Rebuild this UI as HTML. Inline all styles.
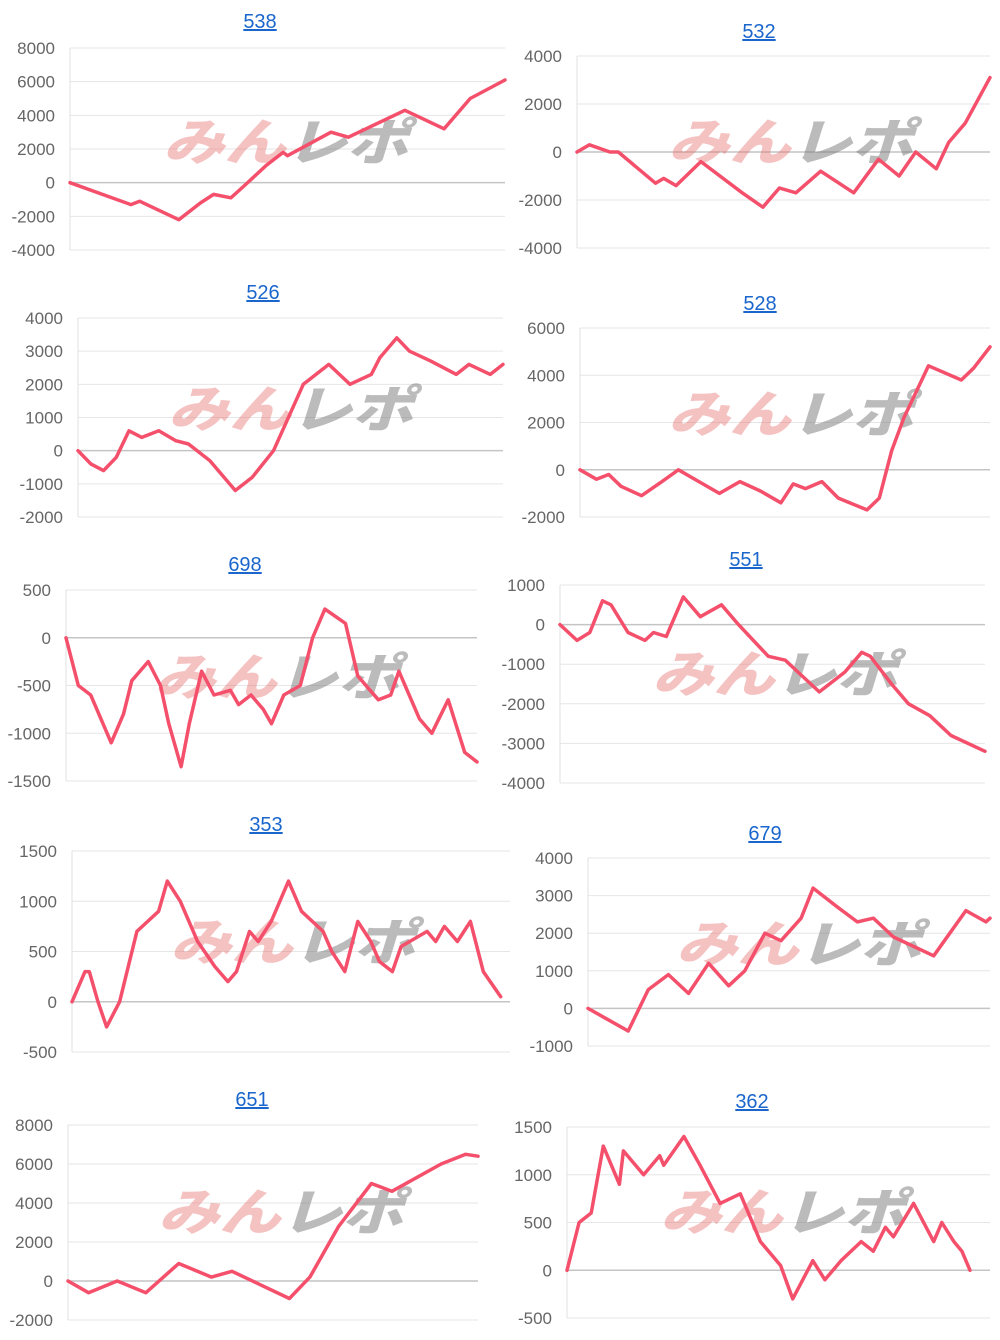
<!DOCTYPE html>
<html><head><meta charset="utf-8"><style>
html,body{margin:0;padding:0;background:#fff;width:1000px;height:1340px;overflow:hidden}
svg{display:block}
</style></head><body>
<svg id="root" width="1000" height="1340" xmlns="http://www.w3.org/2000/svg"></svg>
<script>
// ---- data ----
const c538X=[0,14,16,25,30,33,37,40,45,49,50,60,64,77,86,92,100];
const c538Y=[0,-1300,-1100,-2200,-1200,-700,-900,-200,1000,1800,1600,3000,2700,4300,3200,5000,6100];
const t538=[8000,6000,4000,2000,0,-2000,-4000];
const c532X=[0,3,8,10,19,21,24,30,40,45,49,53,59,67,73,78,82,87,90,94,100];
const c532Y=[0,300,0,0,-1300,-1100,-1400,-400,-1700,-2300,-1500,-1700,-800,-1700,-300,-1000,0,-700,400,1200,3100];
const t532=[4000,2000,0,-2000,-4000];
const c526X=[0,3,6,9,12,15,19,23,26,31,37,41,46,53,59,64,69,71,75,78,83,89,92,97,100];
const c526Y=[0,-400,-600,-200,600,400,600,300,200,-300,-1200,-800,0,2000,2600,2000,2300,2800,3400,3000,2700,2300,2600,2300,2600];
const t526=[4000,3000,2000,1000,0,-1000,-2000];
const c528X=[0,4,7,10,15,20,24,29,34,39,44,49,52,55,59,63,70,73,76,79,85,93,96,100];
const c528Y=[0,-400,-200,-700,-1100,-500,0,-500,-1000,-500,-900,-1400,-600,-800,-500,-1200,-1700,-1200,800,2200,4400,3800,4300,5200];
const t528=[6000,4000,2000,0,-2000];
const c698X=[0,3,6,9,11,14,16,20,23,25,28,30,33,36,40,42,45,48,50,53,57,60,63,68,71,74,76,79,81,86,89,93,97,100];
const c698Y=[0,-500,-600,-900,-1100,-800,-450,-250,-500,-900,-1350,-900,-350,-600,-550,-700,-600,-750,-900,-600,-500,0,300,150,-400,-550,-650,-600,-350,-850,-1000,-650,-1200,-1300];
const t698=[500,0,-500,-1000,-1500];
const c551X=[0,4,7,10,12,16,20,22,25,29,33,38,42,49,53,56,61,67,71,73,78,82,87,92,100];
const c551Y=[0,-400,-200,600,500,-200,-400,-200,-300,700,200,500,0,-800,-900,-1200,-1700,-1200,-700,-800,-1500,-2000,-2300,-2800,-3200];
const t551=[1000,0,-1000,-2000,-3000,-4000];
const c353X=[0,3,4,6,8,11,15,20,22,25,29,33,36,38,41,43,46,50,53,58,60,63,66,69,71,74,76,82,84,86,89,92,95,99];
const c353Y=[0,300,300,0,-250,0,700,900,1200,1000,600,350,200,300,700,600,800,1200,900,700,500,300,800,600,400,300,550,700,600,750,600,800,300,50];
const t353=[1500,1000,500,0,-500];
const c679X=[0,5,10,15,20,25,30,35,39,44,48,53,56,62,67,71,76,86,90,94,99,100];
const c679Y=[0,-300,-600,500,900,400,1200,600,1000,2000,1800,2400,3200,2700,2300,2400,1900,1400,2000,2600,2300,2400];
const t679=[4000,3000,2000,1000,0,-1000];
const c651X=[0,5,12,19,27,35,40,47,54,59,66,74,79,91,97,100];
const c651Y=[0,-600,0,-600,900,200,500,-200,-900,200,2800,5000,4600,6000,6500,6400];
const t651=[8000,6000,4000,2000,0,-2000];
const c362X=[0,3,6,9,13,14,19,23,24,29,33,38,43,48,53,56,61,64,68,73,76,79,81,86,91,93,96,98,100];
const c362Y=[0,500,600,1300,900,1250,1000,1200,1100,1400,1100,700,800,300,50,-300,100,-100,100,300,200,450,350,700,300,500,300,200,0];
const t362=[1500,1000,500,0,-500];

const charts=[
 {title:'538',tx:260,ty:28,ax:70,right:505,dend:505,top:48,bot:250,xs:c538X,ys:c538Y,ticks:t538,wx:163,wy:158},
 {title:'532',tx:759,ty:38,ax:577,right:990,dend:990,top:56,bot:248,xs:c532X,ys:c532Y,ticks:t532,wx:668,wy:158},
 {title:'526',tx:263,ty:299,ax:78,right:503,dend:503,top:318,bot:517,xs:c526X,ys:c526Y,ticks:t526,wx:168,wy:425},
 {title:'528',tx:760,ty:310,ax:580,right:990,dend:990,top:328,bot:517,xs:c528X,ys:c528Y,ticks:t528,wx:668,wy:430},
 {title:'698',tx:245,ty:571,ax:66,right:477,dend:477,top:590,bot:781,xs:c698X,ys:c698Y,ticks:t698,wx:154,wy:693},
 {title:'551',tx:746,ty:566,ax:560,right:985,dend:985,top:585,bot:783,xs:c551X,ys:c551Y,ticks:t551,wx:652,wy:690},
 {title:'353',tx:266,ty:831,ax:72,right:510,dend:505,top:851,bot:1052,xs:c353X,ys:c353Y,ticks:t353,wx:170,wy:958},
 {title:'679',tx:765,ty:840,ax:588,right:990,dend:990,top:858,bot:1046,xs:c679X,ys:c679Y,ticks:t679,wx:676,wy:960},
 {title:'651',tx:252,ty:1106,ax:68,right:478,dend:478,top:1125,bot:1320,xs:c651X,ys:c651Y,ticks:t651,wx:158,wy:1228},
 {title:'362',tx:752,ty:1108,ax:567,right:990,dend:970,top:1127,bot:1318,xs:c362X,ys:c362Y,ticks:t362,wx:660,wy:1228}
];
const NS='http://www.w3.org/2000/svg';
const root=document.getElementById('root');
function mk(tag,attrs,parent){const e=document.createElementNS(NS,tag);for(const k in attrs)e.setAttribute(k,attrs[k]);parent.appendChild(e);return e;}
charts.forEach(c=>{
  const g=mk('g',{},root);
  
  
  const tmax=c.ticks[0],tmin=c.ticks[c.ticks.length-1];
  const yS=v=>c.top+(tmax-v)/(tmax-tmin)*(c.bot-c.top);
  const xS=i=>c.ax+i/100*(c.dend-c.ax);
  c.ticks.forEach(t=>{
    const y=yS(t);
    const ln=mk('line',{x1:c.ax,x2:c.right,y1:y,y2:y,stroke:t===0?'#c4c4c4':'#e6e6e6','stroke-width':t===0?1.5:1},g);
    
    
    const tx=mk('text',{x:c.ax-15,y:y+6,'text-anchor':'end','font-size':17,fill:'#666','font-family':'Liberation Sans, sans-serif'},g);
    tx.textContent=t;
    
    
  });
  const ax=mk('line',{x1:c.ax,x2:c.ax,y1:c.top,y2:c.bot,stroke:'#e0e0e0','stroke-width':1},g);
  
  
  const ti=mk('text',{x:c.tx,y:c.ty,'text-anchor':'middle','font-size':20,fill:'#1a66cc','text-decoration':'underline','font-family':'Liberation Sans, sans-serif'},g);
  ti.textContent=c.title;
  
  
  const w=mk('text',{x:c.wx,y:c.wy+2,'font-size':50,'font-weight':'900','font-style':'italic','font-family':'Noto Sans CJK JP, sans-serif',textLength:245,lengthAdjust:'spacingAndGlyphs'},g);
  
  
  const s1=mk('tspan',{fill:'rgba(232,110,110,0.42)'},w);s1.textContent='みん';
  const s2=mk('tspan',{fill:'rgba(120,120,120,0.5)'},w);s2.textContent='レポ';
  const pts=c.xs.map((x,i)=>xS(x).toFixed(1)+','+yS(c.ys[i]).toFixed(1)).join(' ');
  const pl=mk('polyline',{points:pts,fill:'none',stroke:'#f4506c','stroke-width':3.5,'stroke-linejoin':'round','stroke-linecap':'round'},g);
  
  
});
</script>
</body></html>
